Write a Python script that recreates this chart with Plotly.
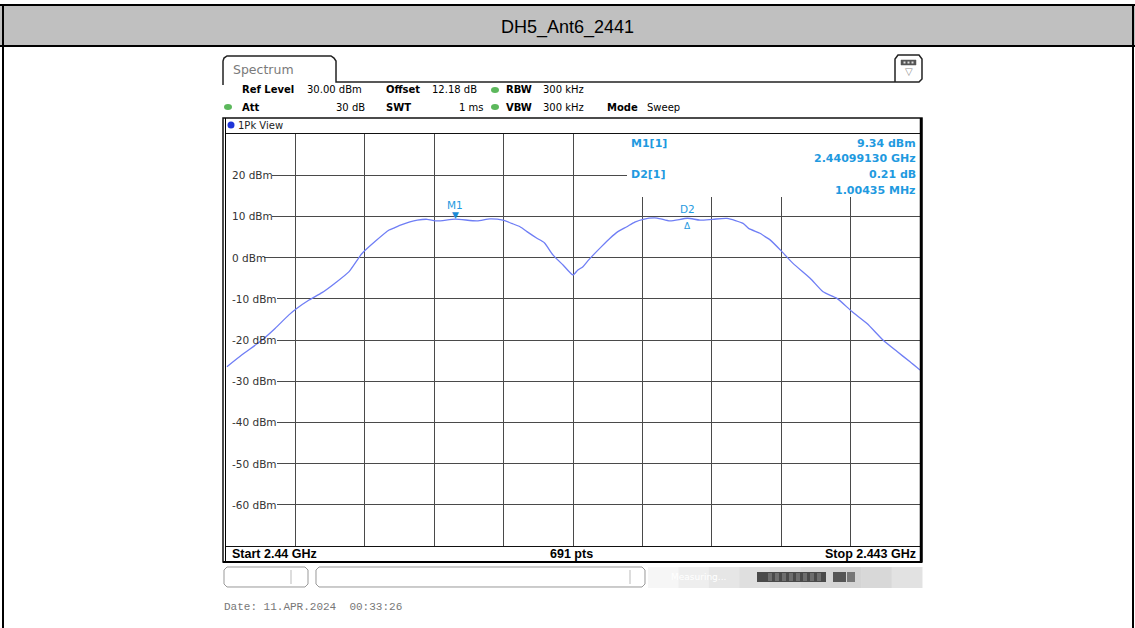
import plotly.graph_objects as go

W, H = 1135, 628

# ---------------- data ----------------
freq_ghz = [2.440004, 2.440069, 2.440156, 2.440212, 2.440272, 2.440307, 2.440359,
            2.440415, 2.440471, 2.440532, 2.440588, 2.440644, 2.440705, 2.440722,
            2.440754, 2.440795, 2.440827, 2.440869, 2.440912, 2.440991, 2.441085,
            2.441141, 2.441197, 2.441235, 2.441271, 2.441301, 2.441344, 2.441376,
            2.441414, 2.441457, 2.441500, 2.441521, 2.441543, 2.441564, 2.441587,
            2.441622, 2.441660, 2.441694, 2.441733, 2.441767, 2.441803, 2.441863,
            2.441919, 2.441995, 2.442049, 2.442105, 2.442166, 2.442235, 2.442259,
            2.442308, 2.442330, 2.442352, 2.442404, 2.442451, 2.442525, 2.442581,
            2.442641, 2.442706, 2.442771, 2.442840, 2.442901, 2.442957, 2.443000]
level_dbm = [-26.5, -23.6, -20.0, -17.2, -13.9, -12.3, -10.3,
             -8.5, -6.2, -3.4, 1.0, 3.9, 6.7, 7.1,
             7.9, 8.7, 9.1, 9.3, 8.9, 9.34, 8.9,
             9.4, 9.1, 8.3, 7.5, 6.3, 4.7, 3.6,
             0.6, -1.8, -4.2, -3.0, -2.2, -0.8, 0.6,
             2.6, 4.7, 6.3, 7.5, 8.6, 9.3, 9.6,
             8.9, 9.55, 9.1, 9.3, 9.5, 8.3, 7.1,
             5.9, 5.1, 4.3, 1.4, -1.4, -5.0, -8.3,
             -9.9, -13.1, -16.0, -20.0, -22.8, -25.3, -27.3]

start_ghz, stop_ghz = 2.44, 2.443
ref_level, bottom_level = 30, -70
y_tick_vals = [20, 10, 0, -10, -20, -30, -40, -50, -60]
y_tick_labels = ["20 dBm", "10 dBm", "0 dBm", "-10 dBm", "-20 dBm",
                 "-30 dBm", "-40 dBm", "-50 dBm", "-60 dBm"]

m1_freq_ghz = 2.44099130
m1_level = 9.34
d2_delta_mhz = 1.00435
d2_delta_db = 0.21

title_text = "DH5_Ant6_2441"

# ---------------- geometry helpers ----------------
PL, PR, PT, PB = 226, 920, 134, 546   # plot area in pixels


def PX(x):
    return x / W


def PY(y):
    return 1 - y / H


def dx(px):  # pixel -> data x
    return start_ghz + (px - PL) / (PR - PL) * (stop_ghz - start_ghz)


def dy(py):  # pixel -> data y
    return ref_level - (py - PT) / (PB - PT) * (ref_level - bottom_level)


def path(points, close=False):
    s = "M " + " L ".join(f"{PX(x):.5f},{PY(y):.5f}" for x, y in points)
    return s + (" Z" if close else "")


shapes = []
annotations = []


def rect(x0, y0, x1, y1, fill=None, line=None, lw=1, layer="below"):
    shapes.append(dict(type="rect", xref="paper", yref="paper",
                       x0=PX(x0), x1=PX(x1), y0=PY(y1), y1=PY(y0),
                       fillcolor=fill if fill else "rgba(0,0,0,0)",
                       line=dict(color=line if line else "rgba(0,0,0,0)", width=lw if line else 0),
                       layer=layer))


def hline(x0, x1, y, color="black", lw=1, layer="above"):
    shapes.append(dict(type="line", xref="paper", yref="paper",
                       x0=PX(x0), x1=PX(x1), y0=PY(y), y1=PY(y),
                       line=dict(color=color, width=lw), layer=layer))


def vline(x, y0, y1, color="black", lw=1, layer="above"):
    shapes.append(dict(type="line", xref="paper", yref="paper",
                       x0=PX(x), x1=PX(x), y0=PY(y0), y1=PY(y1),
                       line=dict(color=color, width=lw), layer=layer))


def text(x, y, s, size=10, color="black", family="DejaVu Sans", anchor="left", bold=False, bg=None):
    if bold:
        s = f"<b>{s}</b>"
    a = dict(xref="paper", yref="paper", x=PX(x), y=PY(y), text=s, showarrow=False,
             xanchor=anchor, yanchor="middle",
             font=dict(size=size, color=color, family=family))
    if bg:
        a["bgcolor"] = bg
    annotations.append(a)


def ellipse(cx, cy, rx, ry, fill):
    shapes.append(dict(type="circle", xref="paper", yref="paper",
                       x0=PX(cx - rx), x1=PX(cx + rx), y0=PY(cy + ry), y1=PY(cy - ry),
                       fillcolor=fill, line=dict(width=0), layer="above"))


# ---------------- page / header ----------------
rect(0, 6, W, 46, fill="#c0c0c0")
hline(0, W, 5, lw=2)
hline(0, W, 46, lw=2)
vline(3, 4, H, lw=2)
vline(1133, 4, H, lw=2)
text(567, 27, title_text, size=18, family="Liberation Sans, Arial", anchor="center")

# ---------------- instrument header ----------------
shapes.append(dict(type="path", xref="paper", yref="paper",
                   path=path([(223, 85), (223, 61), (224, 58), (227, 56), (331, 56),
                              (334, 58), (336, 61), (336, 82), (895, 82)]),
                   line=dict(color="#222", width=1.5), layer="above"))
text(231, 69, "Spectrum", size=12.5, color="#7a7a7a")
# icon box top right
shapes.append(dict(type="path", xref="paper", yref="paper",
                   path=path([(895, 82), (895, 59), (898, 55), (919, 55), (922, 59),
                              (922, 79), (919, 82), (895, 82)]),
                   line=dict(color="#222", width=1.5), layer="above"))
rect(901, 60, 916, 65, fill="#555", line="#555", lw=0.5, layer="above")
for k in range(3):
    rect(903.5 + k * 4, 61.5, 905.5 + k * 4, 63.5, fill="#ddd", layer="above")
text(908.5, 72, "▽", size=10, color="#888", anchor="center")

# setting rows
r1, r2 = 90, 107
text(240, r1, "Ref Level", bold=True)
text(305, r1, "30.00 dBm")
text(384, r1, "Offset", bold=True)
text(430, r1, "12.18 dB")
ellipse(495, r1, 4, 3, "#5cb85c")
text(504, r1, "RBW", bold=True)
text(541, r1, "300 kHz")

ellipse(228, r2, 4, 3, "#5cb85c")
text(240, r2, "Att", bold=True)
text(367, r2, "30 dB", anchor="right")
text(384, r2, "SWT", bold=True)
text(486, r2, "1 ms", anchor="right")
ellipse(495, r2, 4, 3, "#5cb85c")
text(504, r2, "VBW", bold=True)
text(541, r2, "300 kHz")
text(605, r2, "Mode", bold=True)
text(645, r2, "Sweep")

# diagram frame
rect(223, 118, 922, 562, line="#111", lw=1.5, layer="above")
vline(225.5, 118, 562, lw=1)
vline(921, 118, 562, lw=2.5)
hline(223, 922, 562, lw=2)
ellipse(231, 125, 3.5, 3.5, "#1f35d8")
text(236, 125, "1Pk View", size=10, color="#222")

# bottom row
text(230, 554, "Start 2.44 GHz", size=12.5, bold=True, family="Liberation Sans, Arial")
text(571, 554, "691 pts", size=12.5, bold=True, family="Liberation Sans, Arial", anchor="center")
text(918, 554, "Stop 2.443 GHz", size=12.5, bold=True, family="Liberation Sans, Arial", anchor="right")

# status bar
shapes.append(dict(type="path", xref="paper", yref="paper",
                   path=path([(227, 567), (305, 567), (308, 570), (308, 584), (305, 587),
                              (227, 587), (224, 584), (224, 570)], close=True),
                   line=dict(color="#999", width=1), fillcolor="white", layer="above"))
vline(291, 570, 584, color="#bbb")
shapes.append(dict(type="path", xref="paper", yref="paper",
                   path=path([(319, 567), (642, 567), (645, 570), (645, 584), (642, 587),
                              (319, 587), (316, 584), (316, 570)], close=True),
                   line=dict(color="#999", width=1), fillcolor="white", layer="above"))
vline(630, 570, 584, color="#bbb")
grads = ["#f6f6f6", "#eeeeee", "#e6e6e6", "#dfdfdf", "#dadada", "#d6d6d6", "#d4d4d4", "#d8d8d8", "#e2e2e2"]
gx0, gx1 = 648, 922
step = (gx1 - gx0) / len(grads)
for i, c in enumerate(grads):
    rect(gx0 + i * step, 567, gx0 + (i + 1) * step + 0.5, 588, fill=c, layer="above")
text(669, 577, "Measuring...", size=9, color="#ffffff")
rect(757, 572, 826, 582, fill="#4a4a4a", layer="above")
for k in range(8):
    rect(768 + k * 7, 573, 772 + k * 7, 581, fill="#6e6e6e", layer="above")
rect(833, 572, 846, 582, fill="#555", layer="above")
rect(847, 572, 855, 582, fill="#777", layer="above")

# date
text(222, 607, "Date: 11.APR.2024  00:33:26", size=11, color="#777",
     family="Liberation Mono, Courier New, monospace")

# ---------------- plot decorations in data space ----------------
label_end_px = {"20 dBm": 272, "10 dBm": 272, "0 dBm": 264}
for v, lab in zip(y_tick_vals, y_tick_labels):
    end = label_end_px.get(lab, 277)
    shapes.append(dict(type="rect", xref="x", yref="y", x0=dx(PL), x1=dx(end),
                       y0=v - 1.7, y1=v + 1.7, fillcolor="white", line=dict(width=0),
                       layer="between"))
    annotations.append(dict(xref="paper", yref="y", x=PX(230), y=v, text=lab, showarrow=False,
                            xanchor="left", yanchor="middle",
                            font=dict(size=10.5, color="#333", family="DejaVu Sans")))

# marker info block mask (covers the grid behind the marker table)
shapes.append(dict(type="rect", xref="x", yref="y", x0=dx(627), x1=dx(PR),
                   y0=dy(197), y1=dy(PT), fillcolor="white", line=dict(width=0),
                   layer="between"))
mcol = "#1f9ae0"
d2_freq_ghz = m1_freq_ghz + d2_delta_mhz / 1000
d2_level = m1_level + d2_delta_db
text(629, 143, "M1[1]", size=11, color=mcol, bold=True)
text(918, 143, f"{m1_level:.2f} dBm", size=11, color=mcol, bold=True, anchor="right")
text(918, 158, f"{m1_freq_ghz:.8f} GHz", size=11, color=mcol, bold=True, anchor="right")
text(629, 174, "D2[1]", size=11, color=mcol, bold=True)
text(918, 174, f"{d2_delta_db:.2f} dB", size=11, color=mcol, bold=True, anchor="right")
text(918, 190, f"{d2_delta_mhz:.5f} MHz", size=11, color=mcol, bold=True, anchor="right")

# markers on the trace
annotations += [
    dict(xref="x", yref="y", x=m1_freq_ghz, y=m1_level, text="▼", showarrow=False,
         xanchor="center", yanchor="bottom", yshift=-3,
         font=dict(size=9, color="#1a8ad6", family="DejaVu Sans")),
    dict(xref="x", yref="y", x=m1_freq_ghz, y=m1_level, text="M1", showarrow=False,
         xanchor="center", yanchor="bottom", yshift=6,
         font=dict(size=10.5, color=mcol, family="DejaVu Sans")),
    dict(xref="x", yref="y", x=d2_freq_ghz, y=d2_level, text="Δ", showarrow=False,
         xanchor="center", yanchor="top", yshift=-1,
         font=dict(size=9, color=mcol, family="DejaVu Sans")),
    dict(xref="x", yref="y", x=d2_freq_ghz, y=d2_level, text="D2", showarrow=False,
         xanchor="center", yanchor="bottom", yshift=1,
         font=dict(size=10.5, color=mcol, family="DejaVu Sans")),
]

fig = go.Figure()
fig.add_trace(go.Scatter(x=freq_ghz, y=level_dbm, mode="lines",
                         line=dict(color="#6f7ef5", width=1.3, shape="spline", smoothing=0.6),
                         hoverinfo="skip", showlegend=False))

fig.update_layout(
    width=W, height=H, autosize=False,
    margin=dict(l=0, r=0, t=0, b=0),
    paper_bgcolor="white", plot_bgcolor="white",
    showlegend=False,
    xaxis=dict(domain=[PX(PL), PX(PR)], range=[start_ghz, stop_ghz],
               tick0=start_ghz, dtick=(stop_ghz - start_ghz) / 10,
               showticklabels=False, ticks="", showgrid=True,
               gridcolor="#4a4a4a", gridwidth=1.2, zeroline=False,
               showline=True, mirror=True, linecolor="#111", linewidth=1,
               fixedrange=True),
    yaxis=dict(domain=[PY(PB), PY(PT)], range=[bottom_level, ref_level],
               tick0=0, dtick=10, showticklabels=False, ticks="", showgrid=True,
               gridcolor="#4a4a4a", gridwidth=1.2, zeroline=False,
               showline=True, mirror=True, linecolor="#111", linewidth=1,
               fixedrange=True),
    shapes=shapes,
    annotations=annotations,
)

fig.write_html("out.html", config={"displayModeBar": False},
               post_script="document.body.style.margin='0';document.body.style.padding='0';")
